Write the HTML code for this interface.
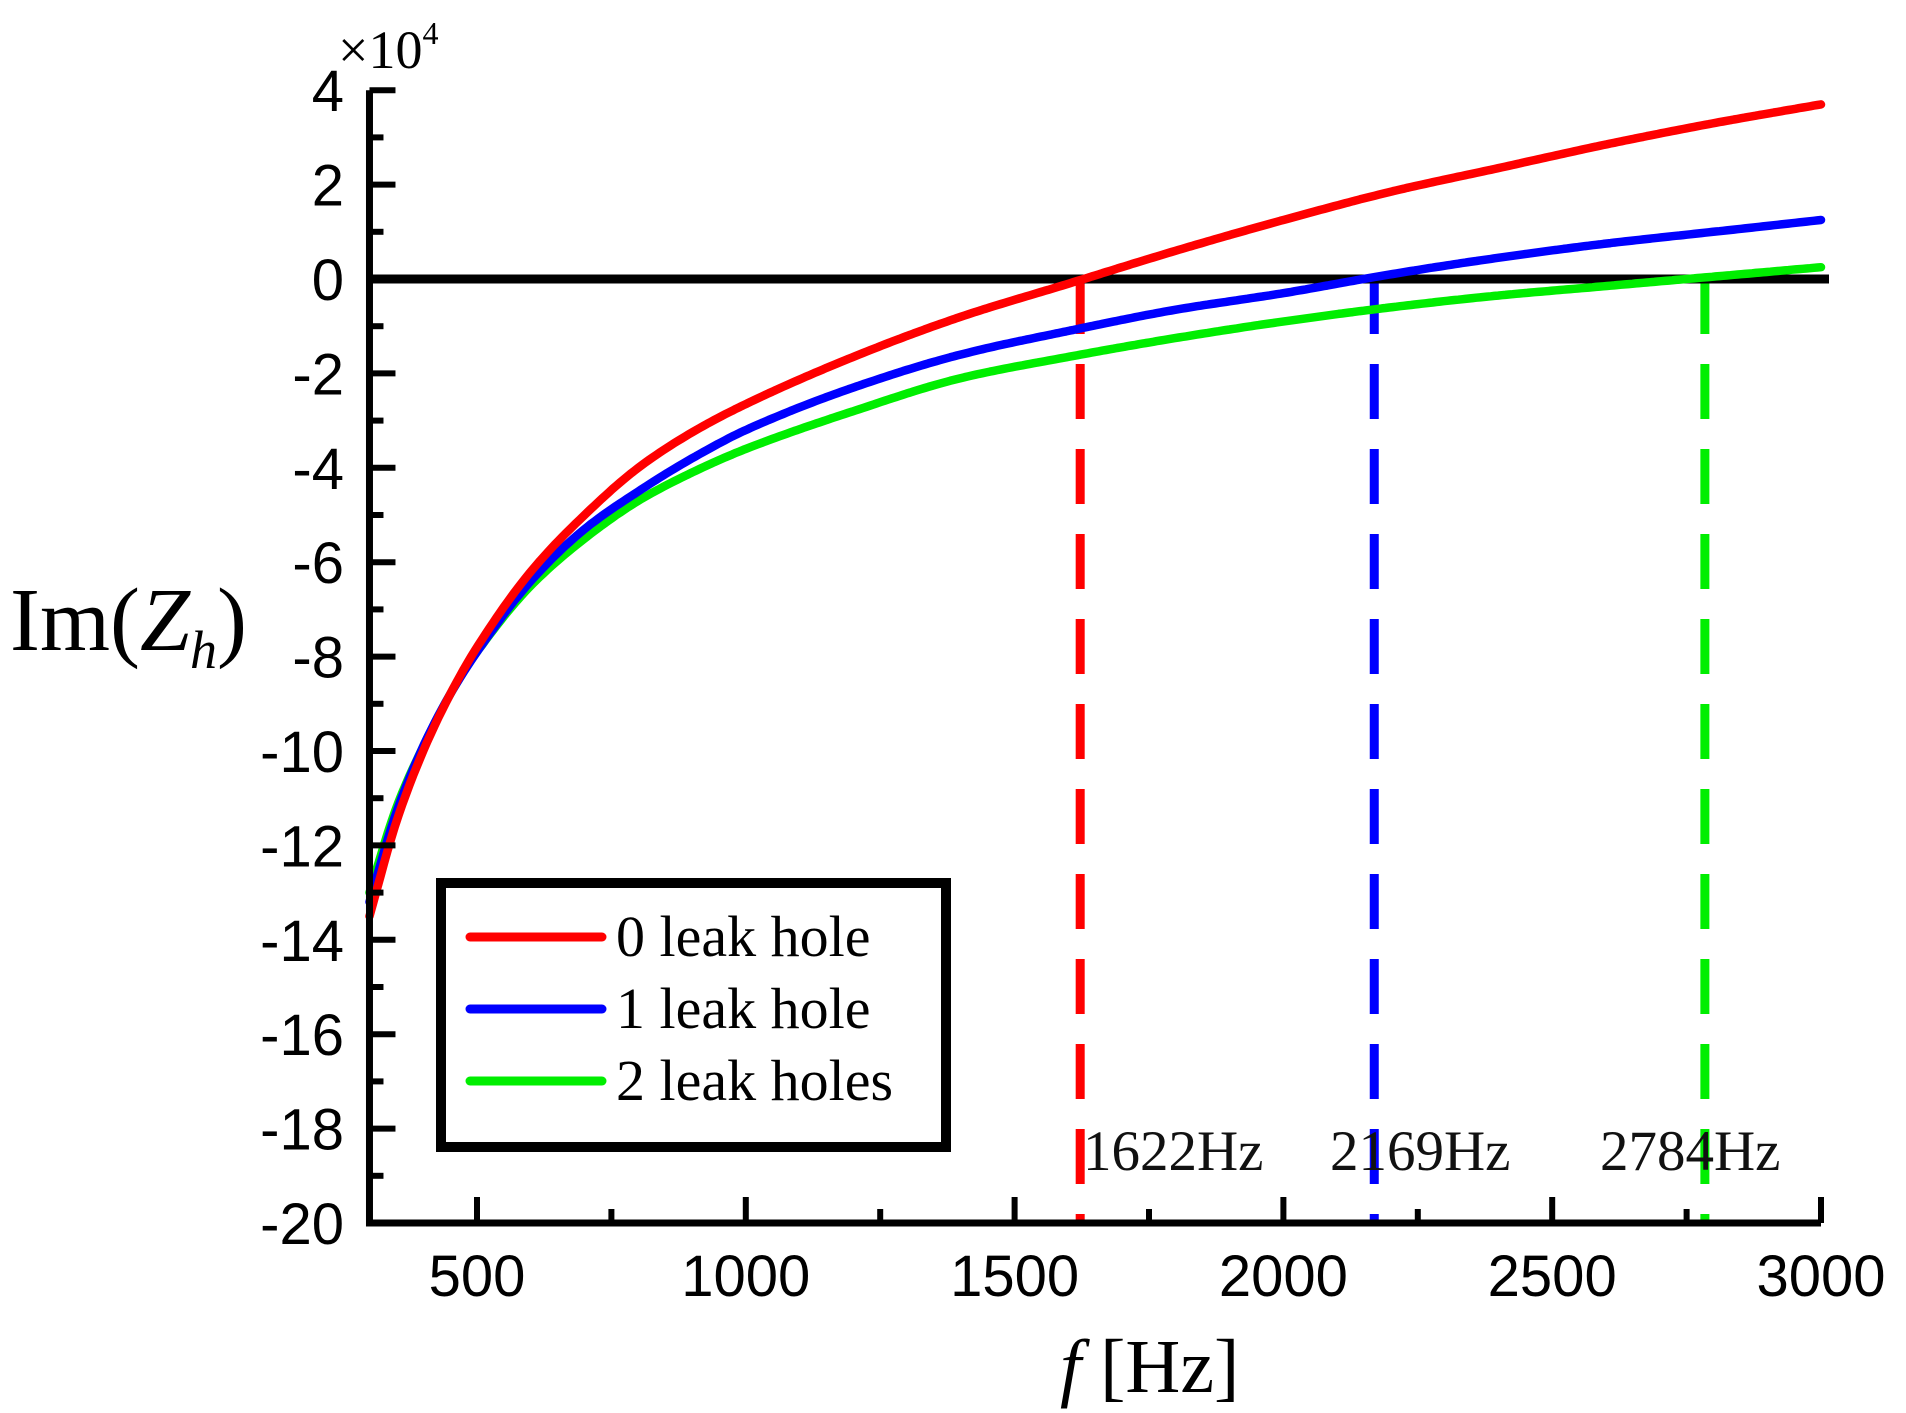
<!DOCTYPE html>
<html><head><meta charset="utf-8"><style>
html,body{margin:0;padding:0;background:#fff}
svg{display:block}
</style></head><body>
<svg id="chart" width="1906" height="1413" viewBox="0 0 1906 1413" xmlns="http://www.w3.org/2000/svg">
<g id="plot"></g>
</svg>
<script>
const freqs=[300,350,400,450,500,600,700,800,900,1000,1200,1400,1600,1800,2000,2200,2400,2600,2800,3000];
const red0=[-13.5,-11.5,-10.0,-8.8,-7.8,-6.2,-5.0,-4.0,-3.25,-2.65,-1.65,-0.8,-0.1,0.6,1.25,1.85,2.35,2.85,3.3,3.7];
const blue1=[-13.2,-11.3,-9.9,-8.8,-7.9,-6.4,-5.3,-4.5,-3.8,-3.2,-2.3,-1.6,-1.1,-0.65,-0.3,0.1,0.45,0.75,1.0,1.25];
const green2=[-13.0,-11.2,-9.9,-8.8,-7.9,-6.5,-5.5,-4.7,-4.1,-3.6,-2.8,-2.1,-1.65,-1.25,-0.9,-0.6,-0.35,-0.15,0.05,0.25];
const resonances=[1622,2169,2784];
const resonanceLabels=["1622Hz","2169Hz","2784Hz"];
const xTicks=[500,1000,1500,2000,2500,3000];
const xMinor=[750,1250,1750,2250,2750];
const yTicks=[4,2,0,-2,-4,-6,-8,-10,-12,-14,-16,-18,-20];
const yMinor=[3,1,-1,-3,-5,-7,-9,-11,-13,-15,-17,-19];

const X=f=>477+(f-500)*0.5376;
const Y=v=>279-v*47.2;
const NS="http://www.w3.org/2000/svg";
const g=document.getElementById('plot');
function mk(tag,attrs,parent){const e=document.createElementNS(NS,tag);for(const k in attrs)e.setAttribute(k,attrs[k]);(parent||g).appendChild(e);return e;}

// monotone cubic interpolation (Fritsch-Carlson)
function interp(xs,ys){
  const n=xs.length,d=[],m=[];
  for(let i=0;i<n-1;i++)d.push((ys[i+1]-ys[i])/(xs[i+1]-xs[i]));
  m[0]=d[0];m[n-1]=d[n-2];
  for(let i=1;i<n-1;i++)m[i]=(d[i-1]*d[i]<=0)?0:(2/(1/d[i-1]+1/d[i]));
  return x=>{
    let i=0;while(i<n-2&&x>xs[i+1])i++;
    const h=xs[i+1]-xs[i],t=(x-xs[i])/h,t2=t*t,t3=t2*t;
    return (2*t3-3*t2+1)*ys[i]+(t3-2*t2+t)*h*m[i]+(-2*t3+3*t2)*ys[i+1]+(t3-t2)*h*m[i+1];
  };
}
function pathFor(xs,ys){
  const f=interp(xs,ys);let d='';
  const a=xs[0],b=xs[xs.length-1];
  for(let k=0;k<=400;k++){const x=a+(b-a)*k/400;d+=(k?'L':'M')+X(x).toFixed(1)+','+Y(f(x)).toFixed(1);}
  return d;
}
// dashed resonance lines
const rc=['#ff0000','#0000ff','#00ee00'];
const lblX=[1083,1330,1600];
resonances.forEach((f,i)=>{
  const l=mk('line',{x1:X(f),x2:X(f),y1:Y(0),y2:Y(-20),stroke:rc[i],'stroke-width':9,'stroke-dasharray':'55 30'});
  
  
  const t=mk('text',{x:lblX[i],y:1170,'font-family':'Liberation Serif, serif','font-size':57,fill:'#111'});
  t.textContent=resonanceLabels[i];
  
  
});
// zero line
const z=mk('line',{x1:X(300),x2:1829,y1:Y(0),y2:Y(0),stroke:'#000','stroke-width':9});



[[green2,'#00ee00','series-2-leak-holes'],[blue1,'#0000ff','series-1-leak-hole'],[red0,'#ff0000','series-0-leak-hole']].forEach(([vals,c,n])=>{
  const p=mk('path',{d:pathFor(freqs,vals),fill:'none',stroke:c,'stroke-width':8.5,'stroke-linecap':'round','stroke-linejoin':'round'});
  
  
});

// axes
const ax=mk('path',{d:`M${X(300)},${Y(4)} L${X(300)},${Y(-20)} L${X(3000)},${Y(-20)}`,fill:'none',stroke:'#000','stroke-width':7});


yTicks.forEach(v=>{
  const l=mk('line',{x1:X(300),x2:X(300)+26,y1:Y(v),y2:Y(v),stroke:'#000','stroke-width':6});
  
  
  const t=mk('text',{x:344,y:Y(v)+21,'text-anchor':'end','font-family':'Liberation Sans, sans-serif','font-size':58,fill:'#000'});
  t.textContent=v;
  
  
});
yMinor.forEach(v=>{
  const l=mk('line',{x1:X(300),x2:X(300)+14,y1:Y(v),y2:Y(v),stroke:'#000','stroke-width':6});
  
  
});
xTicks.forEach(f=>{
  const l=mk('line',{x1:X(f),x2:X(f),y1:Y(-20),y2:Y(-20)-26,stroke:'#000','stroke-width':6});
  
  
  const t=mk('text',{x:X(f),y:1296,'text-anchor':'middle','font-family':'Liberation Sans, sans-serif','font-size':58,fill:'#000'});
  t.textContent=f;
  
  
});
xMinor.forEach(f=>{
  const l=mk('line',{x1:X(f),x2:X(f),y1:Y(-20),y2:Y(-20)-14,stroke:'#000','stroke-width':6});
  
  
});
</script>
<svg style="position:absolute;left:0;top:0" width="1906" height="1413" xmlns="http://www.w3.org/2000/svg">
<text x="338" y="68" font-family="Liberation Serif, serif" font-size="54">×10<tspan dy="-24" font-size="32">4</tspan></text>
<text x="10" y="650" font-family="Liberation Serif, serif" font-size="90">Im(<tspan font-style="italic">Z</tspan><tspan font-style="italic" font-size="54" dy="18">h</tspan><tspan dy="-18">)</tspan></text>
<text x="1060" y="1392" font-family="Liberation Serif, serif" font-size="76"><tspan font-style="italic">f</tspan> [Hz]</text>
<g>
<rect x="441" y="883" width="505" height="264" fill="#fff" stroke="#000" stroke-width="10"/>
<line x1="470" x2="602" y1="937" y2="937" stroke="#ff0000" stroke-width="9" stroke-linecap="round"/>
<line x1="470" x2="602" y1="1009" y2="1009" stroke="#0000ff" stroke-width="9" stroke-linecap="round"/>
<line x1="470" x2="602" y1="1081" y2="1081" stroke="#00ee00" stroke-width="9" stroke-linecap="round"/>
<text x="616" y="956" font-family="Liberation Serif, serif" font-size="58">0 leak hole</text>
<text x="616" y="1028" font-family="Liberation Serif, serif" font-size="58">1 leak hole</text>
<text x="616" y="1100" font-family="Liberation Serif, serif" font-size="58">2 leak holes</text>
</g>
</svg>
</body></html>
